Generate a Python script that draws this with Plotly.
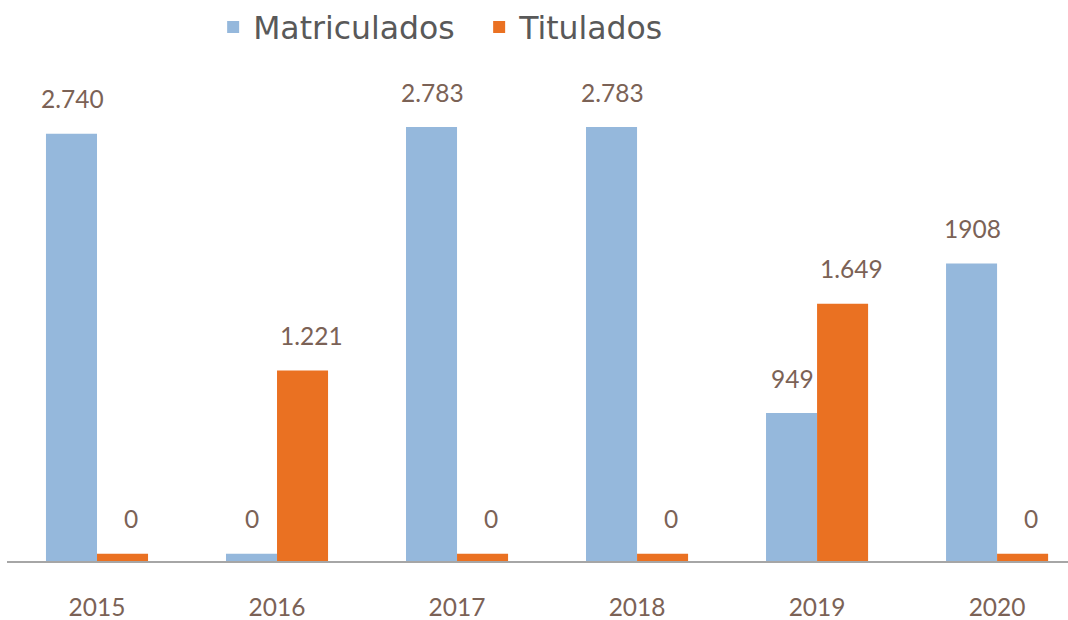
import plotly.graph_objects as go

years = ["2015", "2016", "2017", "2018", "2019", "2020"]
matriculados = [2740, 0, 2783, 2783, 949, 1908]
titulados = [0, 1221, 0, 0, 1649, 0]
matriculados_labels = ["2.740", "0", "2.783", "2.783", "949", "1908"]
titulados_labels = ["0", "1.221", "0", "0", "1.649", "0"]

BLUE = "#95B8DC"
ORANGE = "#EA7122"
LABEL = "#7B6256"
FONT = "Lato"

# zero values are drawn as a thin stub so they stay visible, as in the original
stub = max(matriculados + titulados) / 60.0
def shown(vals):
    return [v if v > 0 else stub for v in vals]

fig = go.Figure()
fig.add_trace(go.Bar(name="Matriculados", x=years, y=shown(matriculados),
                     marker=dict(color=BLUE, line=dict(width=0)), hoverinfo="skip"))
fig.add_trace(go.Bar(name="Titulados", x=years, y=shown(titulados),
                     marker=dict(color=ORANGE, line=dict(width=0)), hoverinfo="skip"))

annotations = []
for i, (v, t) in enumerate(zip(shown(matriculados), matriculados_labels)):
    annotations.append(dict(x=i, y=v, xref="x", yref="y", text=t, showarrow=False,
                            xshift=-25, yshift=35, yanchor="middle",
                            font=dict(family=FONT, size=24.5, color=LABEL)))
for i, (v, t) in enumerate(zip(shown(titulados), titulados_labels)):
    annotations.append(dict(x=i, y=v, xref="x", yref="y", text=t, showarrow=False,
                            xshift=34, yshift=35, yanchor="middle",
                            font=dict(family=FONT, size=24.5, color=LABEL)))

fig.update_layout(
    width=1068, height=620,
    margin=dict(l=7, r=0, t=60, b=59),
    paper_bgcolor="white", plot_bgcolor="white",
    barmode="group", bargap=0.433, bargroupgap=0,
    showlegend=True,
    legend=dict(orientation="h", x=0.445, xanchor="center", y=1.12, yanchor="top",
                font=dict(family="DejaVu Sans", size=31.5, color="#595959"),
                entrywidth=221, entrywidthmode="pixels",
                itemsizing="constant", traceorder="normal"),
    annotations=annotations,
    xaxis=dict(type="category", range=[-0.5, 5.394], showgrid=False, zeroline=False,
               showline=True, linecolor="#A6A6A6", linewidth=2, ticks="",
               tickfont=dict(family=FONT, size=24.5, color=LABEL),
               ticklabelstandoff=24, fixedrange=True),
    yaxis=dict(range=[0, 3213], visible=False, showgrid=False, zeroline=False,
               fixedrange=True),
)

fig.write_html("out.html", config={"displayModeBar": False},
               post_script="document.body.style.margin='0';")
